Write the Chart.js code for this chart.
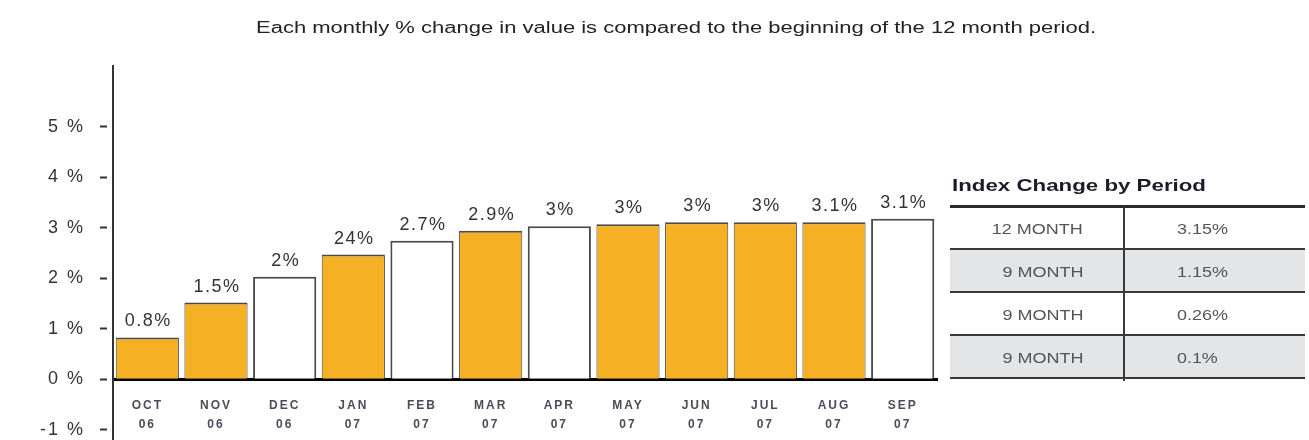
<!DOCTYPE html>
<html>
<head>
<meta charset="utf-8">
<script src="https://cdn.jsdelivr.net/npm/chart.js@4.4.1/dist/chart.umd.min.js"></script>
<style>
html, body { margin: 0; padding: 0; background: #fff; }
#wrap { position: relative; width: 1309px; height: 440px; overflow: hidden; font-family: "Liberation Sans", Arial, sans-serif; }
#chart { position: absolute; left: 0; top: 0; }
.txt { position: absolute; white-space: nowrap; }
#title { left: 256px; top: 19px; font-size: 16px; line-height: 18px; color: #222; transform-origin: left center; }
#tblTitle { left: 952px; top: 176px; font-size: 17px; line-height: 20px; font-weight: bold; color: #1c1c28; transform-origin: left center; }
.hline { position: absolute; left: 950px; width: 355px; background: #3a3a3a; }
.rowbg { position: absolute; left: 950px; width: 355px; background: #e4e5e7; }
.vline { position: absolute; left: 1123px; width: 2px; top: 207px; height: 174px; background: #3a3a3a; }
.cell { font-size: 15px; line-height: 18px; color: #555; }
.c1 { right: 226px; transform-origin: right center; }
.c2 { left: 1177px; transform-origin: left center; }
</style>
</head>
<body>
<div id="wrap">
  <canvas id="chart" width="1309" height="440"></canvas>
  <div id="title" class="txt">Each monthly % change in value is compared to the beginning of the 12 month period.</div>
  <div id="tblTitle" class="txt">Index Change by Period</div>
  <div id="table"></div>
</div>
<script>
// chart data
var months = [['OCT', '06'], ['NOV', '06'], ['DEC', '06'], ['JAN', '07'], ['FEB', '07'], ['MAR', '07'],
              ['APR', '07'], ['MAY', '07'], ['JUN', '07'], ['JUL', '07'], ['AUG', '07'], ['SEP', '07']];
var changes = [0.83, 1.52, 2.03, 2.47, 2.74, 2.94, 3.03, 3.07, 3.11, 3.11, 3.11, 3.18];
var changeLabels = ['0.8%', '1.5%', '2%', '24%', '2.7%', '2.9%', '3%', '3%', '3%', '3%', '3.1%', '3.1%'];
var yTicks = [-1, 0, 1, 2, 3, 4, 5];

// side table
var periods = ['12 MONTH', '9 MONTH', '9 MONTH', '9 MONTH'];
var periodChanges = ['3.15%', '1.15%', '0.26%', '0.1%'];

var ORANGE = '#f5b123';
var hollowBars = [2, 4, 6, 11];

// stretch html text to the width it has in the picture
function stretch(el, w) {
    var nat = el.getBoundingClientRect().width;
    el.style.transform = 'scaleX(' + (w / nat) + ')';
}

// build the table
var table = document.getElementById('table');
var rowTop = 207, rowH = 43;
function add(cls, css, text) {
    var d = document.createElement('div');
    d.className = cls;
    d.style.cssText = css;
    if (text) d.textContent = text;
    table.appendChild(d);
    return d;
}
add('hline', 'top:205px;height:3px;background:#2a2a2a;');
periods.forEach(function (p, i) {
    var top = rowTop + i * rowH;
    if (i % 2 == 1) add('rowbg', 'top:' + top + 'px;height:' + (rowH - 1) + 'px;');
    add('hline', 'top:' + (top + rowH - 2) + 'px;height:2px;');
    var cy = top + rowH / 2 - 9;
    var a = add('txt cell c1', 'top:' + cy + 'px;', p);
    var b = add('txt cell c2', 'top:' + cy + 'px;', periodChanges[i]);
    stretch(a, p.length > 7 ? 91 : 81);
    stretch(b, periodChanges[i].length * 10.2);
});
add('vline', '');
stretch(document.getElementById('title'), 840);
stretch(document.getElementById('tblTitle'), 254);

var barValueLabels = {
    id: 'barValueLabels',
    beforeDraw: function (chart) {
        chart.ctx.letterSpacing = '2px';
    },
    afterDatasetsDraw: function (chart) {
        var ctx = chart.ctx;
        var meta = chart.getDatasetMeta(0);
        ctx.save();
        ctx.letterSpacing = '1.5px';
        ctx.font = '18px "Liberation Sans", Arial, sans-serif';
        ctx.fillStyle = '#333';
        ctx.textAlign = 'center';
        ctx.textBaseline = 'alphabetic';
        meta.data.forEach(function (bar, i) {
            ctx.fillText(changeLabels[i], bar.x + 1, bar.y - 11);
        });
        ctx.restore();
    }
};

// scales must not push the plot area in
function noPad(s) {
    s.paddingTop = 0;
    s.paddingBottom = 0;
}

var ctx = document.getElementById('chart').getContext('2d');
var chart = new Chart(ctx, {
    type: 'bar',
    data: {
        labels: months,
        datasets: [{
            data: changes,
            backgroundColor: changes.map(function (v, i) { return hollowBars.indexOf(i) >= 0 ? '#ffffff' : ORANGE; }),
            borderColor: '#4a4a4a',
            borderWidth: changes.map(function (v, i) {
                return hollowBars.indexOf(i) >= 0 ? 2 : {top: 2, left: 1, right: 1, bottom: 0};
            }),
            borderSkipped: 'start',
            barPercentage: 0.92,
            categoryPercentage: 1
        }]
    },
    options: {
        responsive: false,
        animation: false,
        layout: { padding: { top: 66, right: 372, bottom: 0, left: 0 } },
        plugins: {
            legend: { display: false },
            tooltip: { enabled: false }
        },
        scales: {
            x: {
                position: { y: 0 },
                afterFit: function (s) { s.height = 0; noPad(s); },
                grid: { display: true, drawOnChartArea: false, drawTicks: false },
                border: { color: '#000', width: 3 },
                ticks: {
                    autoSkip: false, maxRotation: 0, padding: 16,
                    color: '#4b4b5a',
                    font: { family: '"Liberation Sans", Arial, sans-serif', size: 12, weight: 'bold', lineHeight: 1.65 }
                }
            },
            y: {
                min: -1.2,
                max: 6.2,
                afterBuildTicks: function (s) {
                    s.ticks = yTicks.map(function (v) { return {value: v}; });
                },
                afterFit: function (s) { s.width = 113; noPad(s); },
                grid: {
                    drawOnChartArea: false,
                    tickLength: 13,
                    tickWidth: 2,
                    tickColor: '#333',
                    tickBorderDash: [7, 6],
                    tickBorderDashOffset: 0
                },
                border: { color: '#333', width: 2 },
                ticks: {
                    padding: 15,
                    color: '#333',
                    font: { family: '"Liberation Sans", Arial, sans-serif', size: 18 },
                    callback: function (v) { return v + ' %'; }
                }
            }
        }
    },
    plugins: [barValueLabels]
});
</script>
</body>
</html>
